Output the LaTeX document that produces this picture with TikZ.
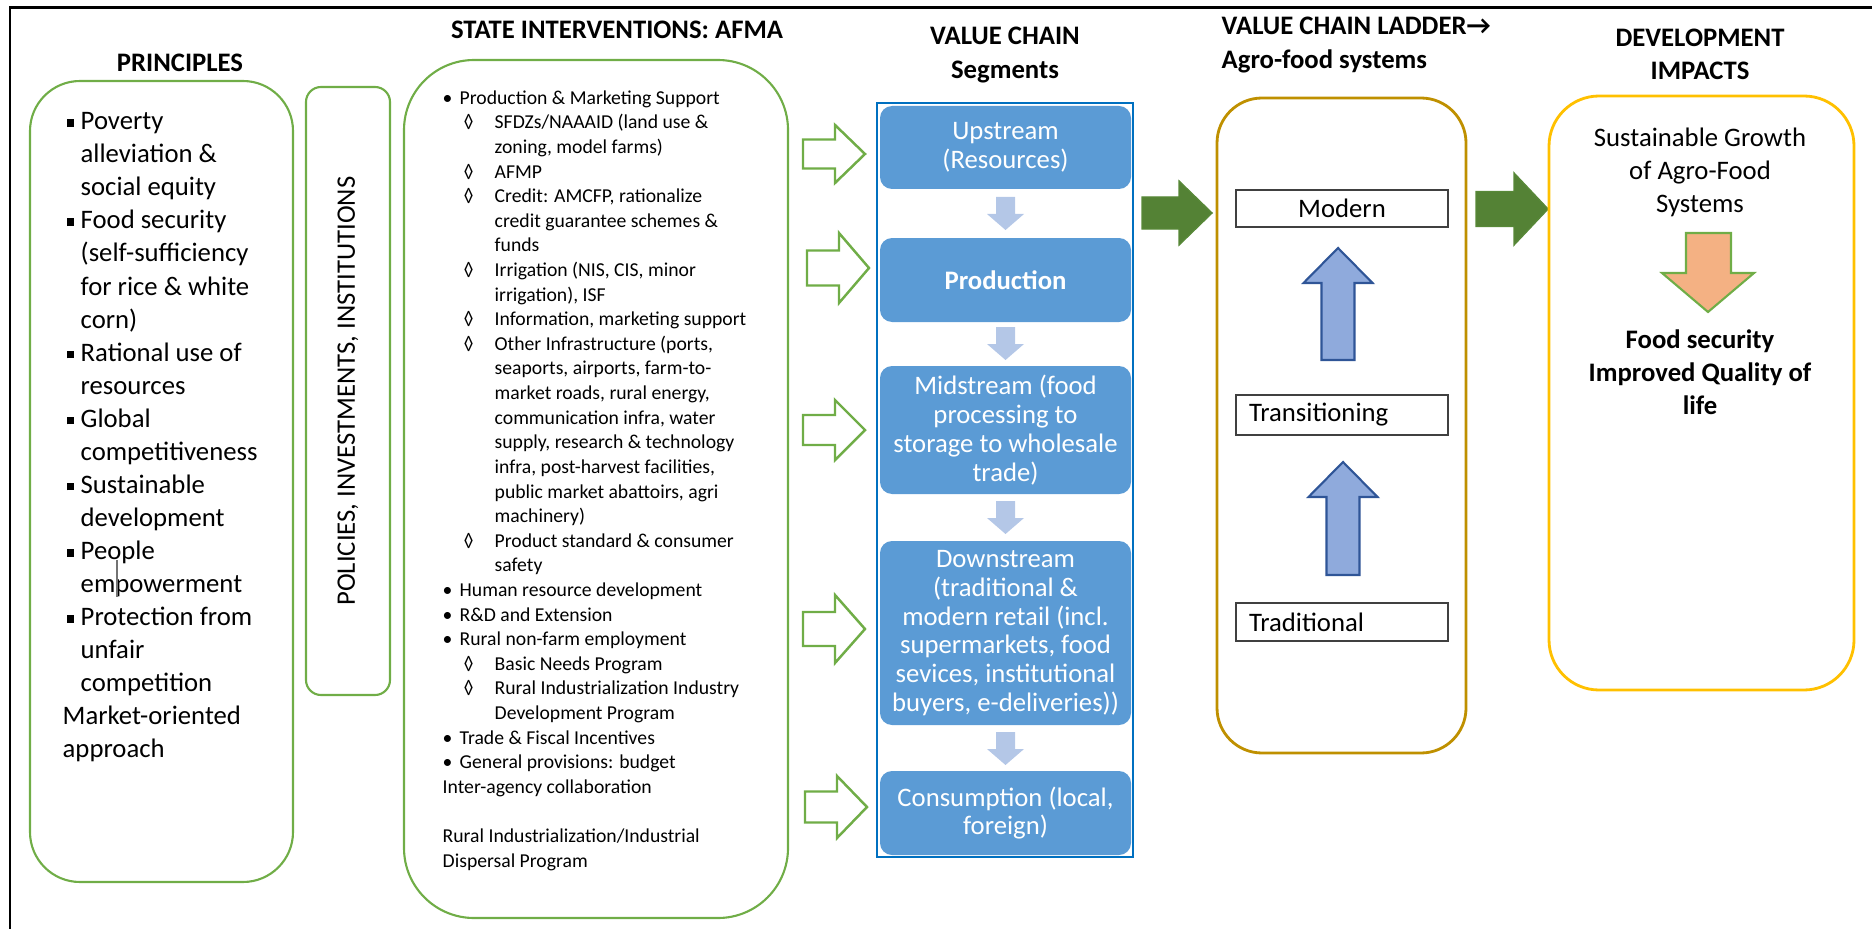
\documentclass[tikz,border=0pt]{standalone}
\usepackage{fontspec}
\setmainfont{Carlito}
\usetikzlibrary{positioning}

\definecolor{boxgreen}{HTML}{70AD47}
\definecolor{darkgreen}{HTML}{548235}
\definecolor{segblue}{HTML}{5B9BD5}
\definecolor{frameblue}{HTML}{0070C0}
\definecolor{paleblue}{HTML}{B4C7E7}
\definecolor{ladderblue}{HTML}{8FAADC}
\definecolor{ladderedge}{HTML}{2F5597}
\definecolor{ladgold}{HTML}{BF9000}
\definecolor{amber}{HTML}{FFC000}
\definecolor{peach}{HTML}{F4B183}

\newcommand{\bigfont}{\fontsize{7.6}{9.4}\selectfont}
\newcommand{\afmafont}{\fontsize{5.6}{7}\selectfont}
\newcommand{\segfont}{\fontsize{7.6}{8.2}\selectfont}
\newcommand{\pbul}{\makebox[1.8mm][l]{\hspace*{0.4mm}\rule[0.8pt]{2.2pt}{2.2pt}}}
\newcommand{\pind}{\hspace*{1.8mm}}
\newcommand{\abul}{\makebox[1.7mm][l]{\textbullet}}
\newcommand{\adia}{\hspace*{2.1mm}\makebox[3.1mm][l]{◊}}
\newcommand{\aind}{\hspace*{5.2mm}}

\tikzset{
  head/.style={font=\bfseries\bigfont,align=center,inner sep=0},
  listtext/.style={align=left,inner sep=0},
  greenbox/.style={draw=boxgreen,line width=0.6pt,rounded corners=#1,inner sep=0},
  greenbox/.default=5mm,
  seg/.style={fill=segblue,rounded corners=1.2mm,minimum width=25.1mm,text=white,font=\segfont,align=center,inner sep=0},
  stage/.style={draw=black!75,line width=0.4pt,minimum width=21.2mm,inner sep=0,font=\bigfont},
  hollowarrow/.style={draw=boxgreen,fill=white,line width=0.7pt},
  bigarrow/.style={fill=darkgreen,draw=darkgreen!85!boxgreen,line width=0.4pt},
  chainarrow/.style={fill=paleblue},
  ladderarrow/.style={fill=ladderblue,draw=ladderedge,line width=0.6pt},
  impactarrow/.style={fill=peach,draw=boxgreen,line width=0.6pt}
}

\begin{document}
\begin{tikzpicture}[x=0.1mm,y=-0.1mm]
\useasboundingbox (0,0) rectangle (1872,929);
\draw[line width=0.7pt] (10,929) -- (10,7.5) -- (1872,7.5);

% headings
\node[head] (princhead) at (180,63) {PRINCIPLES};
\node[head] (afmahead) at (617,30) {STATE INTERVENTIONS: AFMA};
\node[head] (chainhead) at (1005,55) {VALUE CHAIN\\Segments};
\node[head,align=left,anchor=west] (ladderhead) at (1221,45) {VALUE CHAIN LADDER→\\Agro-food systems};
\node[head] (devhead) at (1700,54) {DEVELOPMENT\\IMPACTS};

% principles
\node[greenbox=5mm,minimum width=26.3mm,minimum height=80.1mm] (princ) at (161.5,481.5) {};
\node[listtext,font=\bigfont,anchor=north west] (princtext) at (62,112) {\pbul Poverty\\
\pind alleviation \&\\
\pind social equity\\
\pbul Food security\\
\pind (self-sufficiency\\
\pind for rice \& white\\
\pind corn)\\
\pbul Rational use of\\
\pind resources\\
\pbul Global\\
\pind competitiveness\\
\pbul Sustainable\\
\pind development\\
\pbul People\\
\pind empowerment\\
\pbul Protection from\\
\pind unfair\\
\pind competition\\
Market-oriented\\
approach};
\draw[black!55,line width=0.3pt] (117,560) -- (117,597);

% policies
\node[greenbox=1.5mm,minimum width=8.4mm,minimum height=60.8mm] (policy) at (348,391) {};
\node[rotate=90,font=\bigfont,inner sep=0] (policytext) at (policy.center) {POLICIES, INVESTMENTS, INSTITUTIONS};

% state interventions
\node[greenbox=7mm,minimum width=38.4mm,minimum height=85.8mm] (afma) at (596,489) {};
\node[listtext,font=\afmafont,anchor=north west] (afmatext) at (442,90) {\abul Production \& Marketing Support\\
\adia SFDZs/NAAAID (land use \&\\
\aind zoning, model farms)\\
\adia AFMP\\
\adia Credit: AMCFP, rationalize\\
\aind credit guarantee schemes \&\\
\aind funds\\
\adia Irrigation (NIS, CIS, minor\\
\aind irrigation), ISF\\
\adia Information, marketing support\\
\adia Other Infrastructure (ports,\\
\aind seaports, airports, farm-to-\\
\aind market roads, rural energy,\\
\aind communication infra, water\\
\aind supply, research \& technology\\
\aind infra, post-harvest facilities,\\
\aind public market abattoirs, agri\\
\aind machinery)\\
\adia Product standard \& consumer\\
\aind safety\\
\abul Human resource development\\
\abul R\&D and Extension\\
\abul Rural non-farm employment\\
\adia Basic Needs Program\\
\adia Rural Industrialization Industry\\
\aind Development Program\\
\abul Trade \& Fiscal Incentives\\
\abul General provisions: budget\\
Inter-agency collaboration\\
\mbox{}\\
Rural Industrialization/Industrial\\
Dispersal Program};

\foreach \x/\y/\h in {803/154/29,807/268/35,803/430/30,803/629/34,805/807/31}
  \draw[hollowarrow] (\x,\y-\h/2) -- (\x+32,\y-\h/2) -- (\x+32,\y-\h) -- (\x+62,\y) -- (\x+32,\y+\h) -- (\x+32,\y+\h/2) -- (\x,\y+\h/2) -- cycle;

% value chain
\node[draw=frameblue,line width=0.7pt,minimum width=25.6mm,minimum height=75.4mm,inner sep=0] (chain) at (1005,480) {};
\node[seg,minimum height=8.3mm] (up) at (1005.5,147.5) {Upstream\\(Resources)};
\node[seg,minimum height=8.4mm,font=\bfseries\segfont] (prod) at (1005.5,280) {Production};
\node[seg,minimum height=12.8mm] (mid) at (1005.5,430) {Midstream (food\\processing to\\storage to wholesale\\trade)};
\node[seg,minimum height=18.4mm] (down) at (1005.5,633) {Downstream\\(traditional \&\\modern retail (incl.\\supermarkets, food\\sevices, institutional\\buyers, e-deliveries))};
\node[seg,minimum height=8.4mm] (cons) at (1005.5,813) {Consumption (local,\\foreign)};
\foreach \t in {197,327,501,732}
  \fill[chainarrow] (996,\t) -- (1015,\t) -- (1015,\t+17) -- (1024,\t+17) -- (1005.5,\t+33) -- (987,\t+17) -- (996,\t+17) -- cycle;

\draw[bigarrow] (1142,197) -- (1179,197) -- (1179,181) -- (1212,213) -- (1179,245) -- (1179,229) -- (1142,229) -- cycle;

% ladder
\node[draw=ladgold,line width=0.8pt,rounded corners=4.5mm,minimum width=24.9mm,minimum height=65.5mm,inner sep=0] (ladder) at (1341.5,425.5) {};
\node[stage,minimum height=3.7mm] (modern) at (1342,208.5) {Modern};
\node[stage,minimum height=4mm,text width=18.6mm,align=left] (trans) at (1342,415) {Transitioning};
\node[stage,minimum height=3.8mm,text width=18.6mm,align=left] (trad) at (1342,622) {Traditional};
\foreach \x/\t/\b in {1338/248/360,1343/462/575}
  \draw[ladderarrow] (\x-16.5,\b) -- (\x-16.5,\t+35) -- (\x-34.5,\t+35) -- (\x,\t) -- (\x+34.5,\t+35) -- (\x+16.5,\t+35) -- (\x+16.5,\b) -- cycle;

\draw[bigarrow] (1476,191.5) -- (1514,191.5) -- (1514,173) -- (1548,209) -- (1514,245) -- (1514,226.5) -- (1476,226.5) -- cycle;

% impacts
\node[draw=amber,line width=0.8pt,rounded corners=5mm,minimum width=30.5mm,minimum height=59.4mm,inner sep=0] (dev) at (1701.5,393) {};
\node[font=\bigfont,align=center,inner sep=0] (growth) at (1700,172) {Sustainable Growth\\of Agro-Food\\Systems};
\draw[impactarrow] (1686,233) -- (1731,233) -- (1731,273) -- (1754,273) -- (1708,312) -- (1662,273) -- (1686,273) -- cycle;
\node[font=\bfseries\bigfont,align=center,inner sep=0] (security) at (1700,372) {Food security\\Improved Quality of\\life};
\end{tikzpicture}
\end{document}
